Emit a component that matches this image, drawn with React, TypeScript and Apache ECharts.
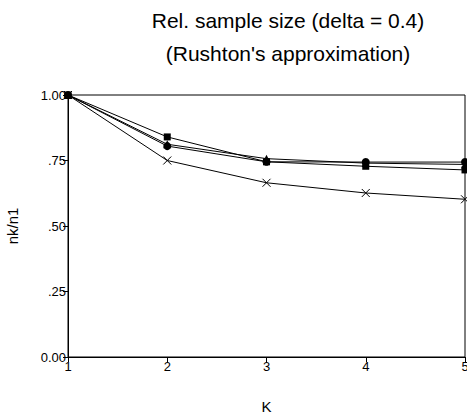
import React, { useEffect, useRef } from "react";
import * as echarts from "echarts";

const kValues = [1, 2, 3, 4, 5];
const seriesSquare = [1.0, 0.84, 0.745, 0.728, 0.714];
const seriesCircle = [1.0, 0.805, 0.745, 0.744, 0.744];
const seriesTriangle = [1.0, 0.812, 0.757, 0.74, 0.735];
const seriesCross = [1.0, 0.75, 0.665, 0.626, 0.602];
const yTickLabels: Record<string, string> = { "0": "0.00", "0.25": ".25", "0.5": ".50", "0.75": ".75", "1": "1.00" };

const FONT = "'Liberation Sans', Arial, sans-serif";

export default function App() {
  const ref = useRef<HTMLDivElement>(null);
  useEffect(() => {
    if (!ref.current) return;
    const chart = echarts.init(ref.current, undefined, { renderer: "svg" });
    const mk = (name: string, data: number[], symbol: string, size: number, hollow = false) => ({
      name,
      type: "line",
      data: kValues.map((k, i) => [k, data[i]]),
      symbol,
      symbolSize: size,
      showSymbol: true,
      lineStyle: { color: "#000", width: 1 },
      itemStyle: hollow
        ? { color: "none", borderColor: "#000", borderWidth: 1 }
        : { color: "#000", borderColor: "#000", borderWidth: 0 },
      z: 3,
    });
    chart.setOption({
      animation: false,
      title: {
        text: "Rel. sample size (delta = 0.4)\n(Rushton's approximation)",
        left: 283,
        top: -1,
        textAlign: "center",
        textStyle: { fontFamily: FONT, fontSize: 21, fontWeight: "normal", color: "#000", lineHeight: 33 },
      },
      grid: {
        left: 68,
        right: 2,
        top: 95,
        bottom: 59,
        show: true,
        borderColor: "#000",
        borderWidth: 1,
        backgroundColor: "transparent",
        outerBoundsMode: "none",
        containLabel: false,
      },
      xAxis: {
        type: "value",
        min: 1,
        max: 5,
        interval: 1,
        name: "K",
        nameLocation: "middle",
        nameGap: 42,
        nameTextStyle: { fontFamily: FONT, fontSize: 15, color: "#000" },
        axisLine: { show: true, lineStyle: { color: "#000", width: 1 } },
        axisTick: { show: true, length: 5, lineStyle: { color: "#000" } },
        axisLabel: { fontFamily: FONT, fontSize: 13, color: "#000", margin: 3, hideOverlap: false },
        splitLine: { show: false },
      },
      yAxis: {
        type: "value",
        min: 0,
        max: 1,
        interval: 0.25,
        name: "nk/n1",
        nameLocation: "middle",
        nameRotate: 90,
        nameGap: 48,
        nameTextStyle: { fontFamily: FONT, fontSize: 15, color: "#000" },
        axisLine: { show: true, lineStyle: { color: "#000", width: 1 } },
        axisTick: { show: true, length: 5, lineStyle: { color: "#000" } },
        axisLabel: {
          fontFamily: FONT,
          fontSize: 13,
          color: "#000",
          margin: 2,
          formatter: (v: number) => yTickLabels[String(v)] ?? String(v),
        },
        splitLine: { show: false },
      },
      series: [
        mk("square", seriesSquare, "rect", 7),
        mk("triangle", seriesTriangle, "triangle", 8),
        mk("circle", seriesCircle, "circle", 8),
        mk("cross", seriesCross, "path://M0,0L10,10M10,0L0,10", 8, true),
      ],
    });
    return () => chart.dispose();
  }, []);
  return <div ref={ref} style={{ width: 467, height: 416, position: "absolute", left: 0, top: 0, background: "#fff" }} />;
}
